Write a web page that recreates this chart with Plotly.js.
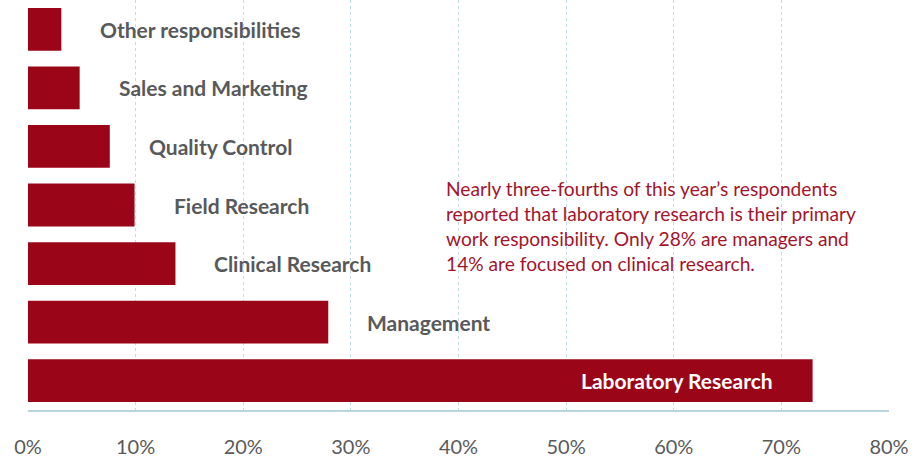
<!DOCTYPE html>
<html>
<head>
<meta charset="utf-8">
<script src="https://cdn.plot.ly/plotly-3.0.1.min.js"></script>
<style>html,body{margin:0;padding:0;background:#fff;}#chart{width:924px;height:465px;}</style>
</head>
<body>
<div id="chart"></div>
<script>
const categories = ["Laboratory Research","Management","Clinical Research","Field Research","Quality Control","Sales and Marketing","Other responsibilities"];
const values = [72.9, 27.9, 13.7, 9.9, 7.6, 4.8, 3.1];
const tickVals = [0,10,20,30,40,50,60,70,80];
const tickText = ["0%","10%","20%","30%","40%","50%","60%","70%","80%"];
const noteText = "Nearly three-fourths of this year’s respondents<br>reported that laboratory research is their primary<br>work responsibility. Only 28% are managers and<br>14% are focused on clinical research.";

const barColor = "#9a0617";
const labelFont = {family:"Lato, 'Open Sans', sans-serif", size:21, color:"#58595b", weight:700};

const annotations = categories.map((c,i)=>{
  const inside = values[i] > 50;
  return {
    x: values[i], y: c, xref:'x', yref:'y',
    text: c, showarrow:false,
    xanchor: inside ? 'right' : 'left',
    xshift: inside ? -38 : 37,
    font: Object.assign({}, labelFont, {color: inside ? '#ffffff' : '#58595b'})
  };
});
annotations.push({
  xref:'paper', yref:'paper', x:0.4831, y:0.572, xanchor:'left', yanchor:'top',
  align:'left', showarrow:false, text: noteText,
  font:{family:"Lato, 'Open Sans', sans-serif", size:19.2, color:"#a3142c"}
});

const trace = {
  type:'bar', orientation:'h', x: values, y: categories,
  marker:{color: barColor}, hoverinfo:'none'
};

const layout = {
  width:924, height:465,
  margin:{l:28, r:35, t:0, b:55},
  paper_bgcolor:'#fff', plot_bgcolor:'#fff',
  bargap:0.27,
  showlegend:false,
  xaxis:{
    range:[0,80], tickvals:tickVals, ticktext:tickText,
    showgrid:true, gridcolor:'#c3dde4', griddash:'dot', gridwidth:1,
    zeroline:false, showline:true, linecolor:'#b9d5de', linewidth:1.5,
    ticks:'outside', ticklen:18, tickcolor:'rgba(0,0,0,0)',
    tickfont:{family:"Lato, 'Open Sans', sans-serif", size:20, color:'#5a5a5c'},
    fixedrange:true
  },
  yaxis:{
    showticklabels:false, showgrid:false, zeroline:false, showline:false,
    range:[-0.5,6.5], fixedrange:true
  },
  annotations: annotations
};

Plotly.newPlot('chart',[trace],layout,{displayModeBar:false, staticPlot:true});
</script>
</body>
</html>
